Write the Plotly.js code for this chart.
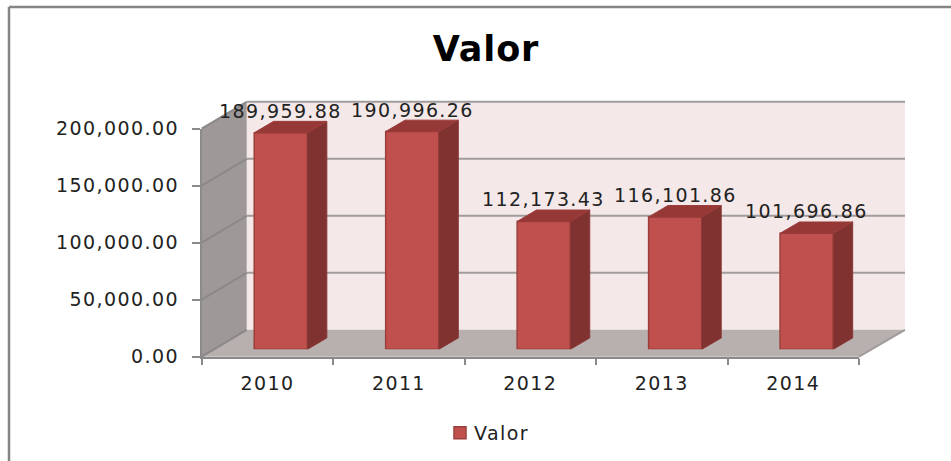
<!DOCTYPE html>
<html><head><meta charset="utf-8">
<script src="https://cdn.plot.ly/plotly-3.0.1.min.js"></script>
<style>html,body{margin:0;padding:0;background:#fff}#c{width:951px;height:461px}
#c svg text{letter-spacing:1.4px}
#c svg text.gtitle{letter-spacing:0.9px}
#c svg text.legendtext{transform:translateX(-6px)}</style>
</head><body><div id="c"></div>
<script>
const years=['2010','2011','2012','2013','2014'];
const valor=[189959.88,190996.26,112173.43,116101.86,101696.86];
const valueLabels=['189,959.88','190,996.26','112,173.43','116,101.86','101,696.86'];
const yTicks=[0,50000,100000,150000,200000];
const seriesName='Valor';

const W=951,H=461;
const fx=p=>p/W, fy=p=>1-p/H;
const L=201.7,R=859,T=128.7,B=356.7;      // front plane of axes
const dxW=45,dyW=26.9;                    // wall depth
const sX=13.4,sY=7.4;                     // bars sit behind the front plane
const barW=0.405, depthX=0.1475, depthY=10000;
const scale=(B-T)/200000;
const grey='#a19d9c', diag='#8b8988';
function poly(pts){return 'M'+pts.map(p=>fx(p[0])+','+fy(p[1])).join('L')+'Z';}
function seg(x0,y0,x1,y1,c,w){return {type:'line',xref:'paper',yref:'paper',layer:'below',x0:fx(x0),y0:fy(y0),x1:fx(x1),y1:fy(y1),line:{color:c||grey,width:w||2}};}
function fill(pts,c){return {type:'path',xref:'paper',yref:'paper',layer:'below',path:poly(pts),fillcolor:c,line:{width:0}};}

const shapes=[
  seg(9,7,951,7,'#858585',2.5), seg(9,7,9,461,'#858585',2.5),
  fill([[L+dxW,B-dyW-228],[R+dxW+1,B-dyW-228],[R+dxW+1,B-dyW],[L+dxW,B-dyW]],'#f4e8e8'),
  fill([[L,T],[L+dxW,T-dyW],[L+dxW,B-dyW],[L,B]],'#9e9998'),
  fill([[L,B],[L+dxW,B-dyW],[R+dxW+1,B-dyW],[R,B]],'#b8afaf')
];
yTicks.forEach(v=>{
  const y=B-v*scale;
  if(v>0) shapes.push(seg(L+dxW,y-dyW,R+dxW+1,y-dyW));
  shapes.push(seg(L,y,L+dxW,y-dyW,diag));
});
shapes.push(seg(R,B,R+dxW+1,B-dyW,grey,2));

const side={x:[],y:[]}, top_={x:[],y:[]};
years.forEach((_,i)=>{
  const r=i+barW/2,l=i-barW/2,v=valor[i];
  side.x.push(r,r+depthX,r+depthX,r,r,null);
  side.y.push(0,depthY,v+depthY,v,0,null);
  top_.x.push(l,r,r+depthX,l+depthX,l,null);
  top_.y.push(v,v,v+depthY,v+depthY,v,null);
});

const data=[
  {type:'scatter',mode:'none',x:years,y:valor,xaxis:'x',yaxis:'y',showlegend:false,hoverinfo:'skip'},
  {type:'bar',name:seriesName,x:[0,1,2,3,4],y:valor,width:barW,xaxis:'x2',yaxis:'y2',
   marker:{color:'#c0504d',line:{color:'#9c3f3c',width:1.5}},hoverinfo:'skip'},
  {type:'scatter',mode:'lines',x:side.x,y:side.y,xaxis:'x2',yaxis:'y2',fill:'toself',fillcolor:'#7f3230',
   line:{color:'#8a3836',width:1},showlegend:false,hoverinfo:'skip'},
  {type:'scatter',mode:'lines',x:top_.x,y:top_.y,xaxis:'x2',yaxis:'y2',fill:'toself',fillcolor:'#953836',
   line:{color:'#9a3c3a',width:1},showlegend:false,hoverinfo:'skip'}
];

const textFont={family:'DejaVu Sans',size:19,color:'#222'};
const axisLine={showline:true,linecolor:'#8a8a8a',linewidth:2,ticks:'outside',tickcolor:'#8a8a8a',tickwidth:2,showgrid:false,zeroline:false,tickfont:textFont};
const y2Top=240000;
const layout={
  width:W,height:H,margin:{l:0,r:0,t:0,b:0,pad:0},paper_bgcolor:'#fff',plot_bgcolor:'rgba(0,0,0,0)',
  showlegend:true,barmode:'overlay',
  title:{text:'<b>Valor</b>',font:{family:'DejaVu Sans',size:35,color:'#000'},x:486/W,xanchor:'center',y:fy(49),yanchor:'middle'},
  xaxis:Object.assign({},axisLine,{type:'category',categoryorder:'array',categoryarray:years,tickson:'boundaries',ticklen:6,
    range:[-0.5,4.5],ticklabelstandoff:8,domain:[fx(L),fx(R)],anchor:'y',fixedrange:true}),
  yaxis:Object.assign({},axisLine,{range:[0,200000],tickvals:yTicks,tickformat:',.2f',ticklen:8,
    ticklabelstandoff:9,domain:[fy(B),fy(T)],anchor:'x',fixedrange:true}),
  xaxis2:{type:'linear',range:[-0.5,4.5],visible:false,domain:[fx(L+sX),fx(R+sX)],anchor:'y2',fixedrange:true},
  yaxis2:{range:[0,y2Top],visible:false,domain:[fy(B-sY),fy(B-sY-y2Top*scale)],anchor:'x2',fixedrange:true},
  shapes:shapes,
  annotations:valor.map((v,i)=>({xref:'x2',yref:'y2',x:i,y:v,yshift:22,text:valueLabels[i],showarrow:false,
    xanchor:'center',yanchor:'middle',font:textFont})),
  legend:{x:fx(440),xanchor:'left',y:fy(433),yanchor:'middle',bgcolor:'rgba(0,0,0,0)',font:textFont}
};
Plotly.newPlot('c',data,layout,{displayModeBar:false,responsive:false});
</script></body></html>
